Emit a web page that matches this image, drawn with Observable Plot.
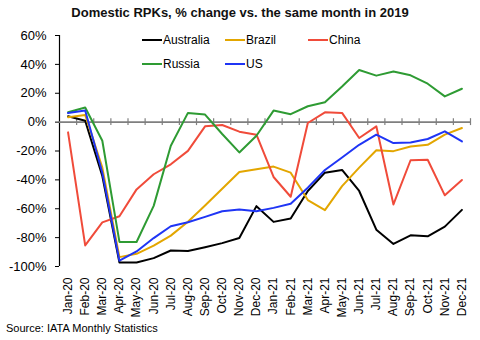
<!DOCTYPE html>
<html><head><meta charset="utf-8">
<script src="https://cdn.jsdelivr.net/npm/d3@7"></script>
<script src="https://cdn.jsdelivr.net/npm/@observablehq/plot@0.6"></script>
<style>
body{margin:0;background:#fff;font-family:"Liberation Sans",Arial,sans-serif;color:#000}
#wrap{position:relative;width:480px;height:340px;overflow:hidden;background:#fff}
#title{height:26px;line-height:26px;text-align:center;font-weight:bold;font-size:13px;color:#111}
#chart svg{display:block}
#legend{position:absolute;left:142px;top:32px;display:grid;grid-template-columns:83px 83px 83px;row-gap:8px;font-size:12px}
#legend .item{height:16px;line-height:16px;white-space:nowrap}
#legend .sw{display:inline-block;width:20px;height:2.5px;vertical-align:middle;margin-right:1px;position:relative;top:-1px}
#caption{position:absolute;left:6px;top:321px;font-size:11px;line-height:14px}
</style></head>
<body>
<div id="wrap">
<div id="title">Domestic RPKs, % change vs. the same month in 2019</div>
<div id="chart"></div>
<div id="legend"></div>
<div id="caption">Source: IATA Monthly Statistics</div>
</div>
<script>
const months = ["Jan-20","Feb-20","Mar-20","Apr-20","May-20","Jun-20","Jul-20","Aug-20","Sep-20","Oct-20","Nov-20","Dec-20",
"Jan-21","Feb-21","Mar-21","Apr-21","May-21","Jun-21","Jul-21","Aug-21","Sep-21","Oct-21","Nov-21","Dec-21"];
const seriesNames = ["Australia","Brazil","China","Russia","US"];
const seriesColors = ["#000000","#E3A600","#F04B3A","#2E9B33","#1F35F5"];
const australia = [4.1,1.0,-37.3,-97.2,-97.2,-94.2,-88.9,-89.3,-86.6,-83.8,-80.3,-58.2,-69.1,-66.8,-47.7,-35.0,-33.1,-47.7,-74.5,-84.4,-78.4,-79.1,-72.4,-60.8];
const brazil = [3.4,5.0,-31.5,-93.5,-91.2,-85.6,-78.6,-69.0,-57.7,-46.1,-34.5,-32.6,-30.8,-35.0,-54.0,-61.0,-44.3,-31.5,-19.5,-20.1,-16.9,-15.7,-8.7,-4.1];
const china = [-7.1,-85.4,-69.4,-65.2,-46.6,-36.1,-29.2,-19.9,-2.9,-2.0,-6.6,-8.7,-38.0,-51.7,-0.6,6.8,6.4,-11.0,-2.9,-57.0,-26.4,-26.1,-50.7,-40.1];
const russia = [6.8,10.1,-12.9,-83.0,-83.0,-58.0,-16.4,6.4,5.2,-8.2,-21.0,-9.4,8.0,5.5,11.0,13.8,24.7,36.1,32.2,35.0,32.4,26.6,17.8,23.1];
const us = [6.3,8.0,-35.0,-96.0,-89.6,-80.3,-72.1,-69.4,-65.6,-61.7,-60.5,-61.7,-59.4,-56.6,-45.4,-33.2,-24.5,-15.7,-8.7,-14.5,-14.1,-11.7,-6.4,-13.4];
const yTicks = [-100,-80,-60,-40,-20,0,20,40,60];

const seriesValues = [australia, brazil, china, russia, us];
const data = seriesNames.flatMap((name, s) => seriesValues[s].map((v, i) => ({series: name, month: i, value: v})));
const idx = months.map((m, i) => i);
const boundaries = months.map((m, i) => i + 0.5);

const chart = Plot.plot({
  width: 480, height: 296,
  marginTop: 9, marginBottom: 56, marginLeft: 59, marginRight: 10,
  style: {fontFamily: "Liberation Sans, Arial, sans-serif", color: "#000", background: "#fff"},
  x: {domain: [-0.5, months.length - 0.5]},
  y: {domain: [yTicks[0], yTicks[yTicks.length - 1]]},
  color: {domain: seriesNames, range: seriesColors},
  marks: [
    Plot.axisY({ticks: yTicks, tickFormat: d => d + "%", tickSize: 4, tickPadding: 9, fontSize: 13, label: null}),
    Plot.axisX({ticks: idx, tickFormat: i => months[i], tickRotate: -90, tickSize: 0, tickPadding: 11, fontSize: 12, label: null}),
    Plot.ruleX([-0.5], {y1: yTicks[0], y2: yTicks[yTicks.length - 1], stroke: "#000", strokeWidth: 1.2}),
    Plot.ruleY([0], {stroke: "#7f7f7f", strokeWidth: 1.6}),
    Plot.ruleX(boundaries, {x: d => d, y1: 2.4, y2: -2.4, stroke: "#7f7f7f", strokeWidth: 1.2}),
    Plot.line(data, {x: "month", y: "value", z: "series", stroke: "series", strokeWidth: 2})
  ]
});
document.getElementById("chart").appendChild(chart);

const legend = document.getElementById("legend");
seriesNames.forEach((name, i) => {
  const item = document.createElement("div");
  item.className = "item";
  const sw = document.createElement("span");
  sw.className = "sw";
  sw.style.background = seriesColors[i];
  item.appendChild(sw);
  item.appendChild(document.createTextNode(name));
  legend.appendChild(item);
});
</script>
</body></html>
